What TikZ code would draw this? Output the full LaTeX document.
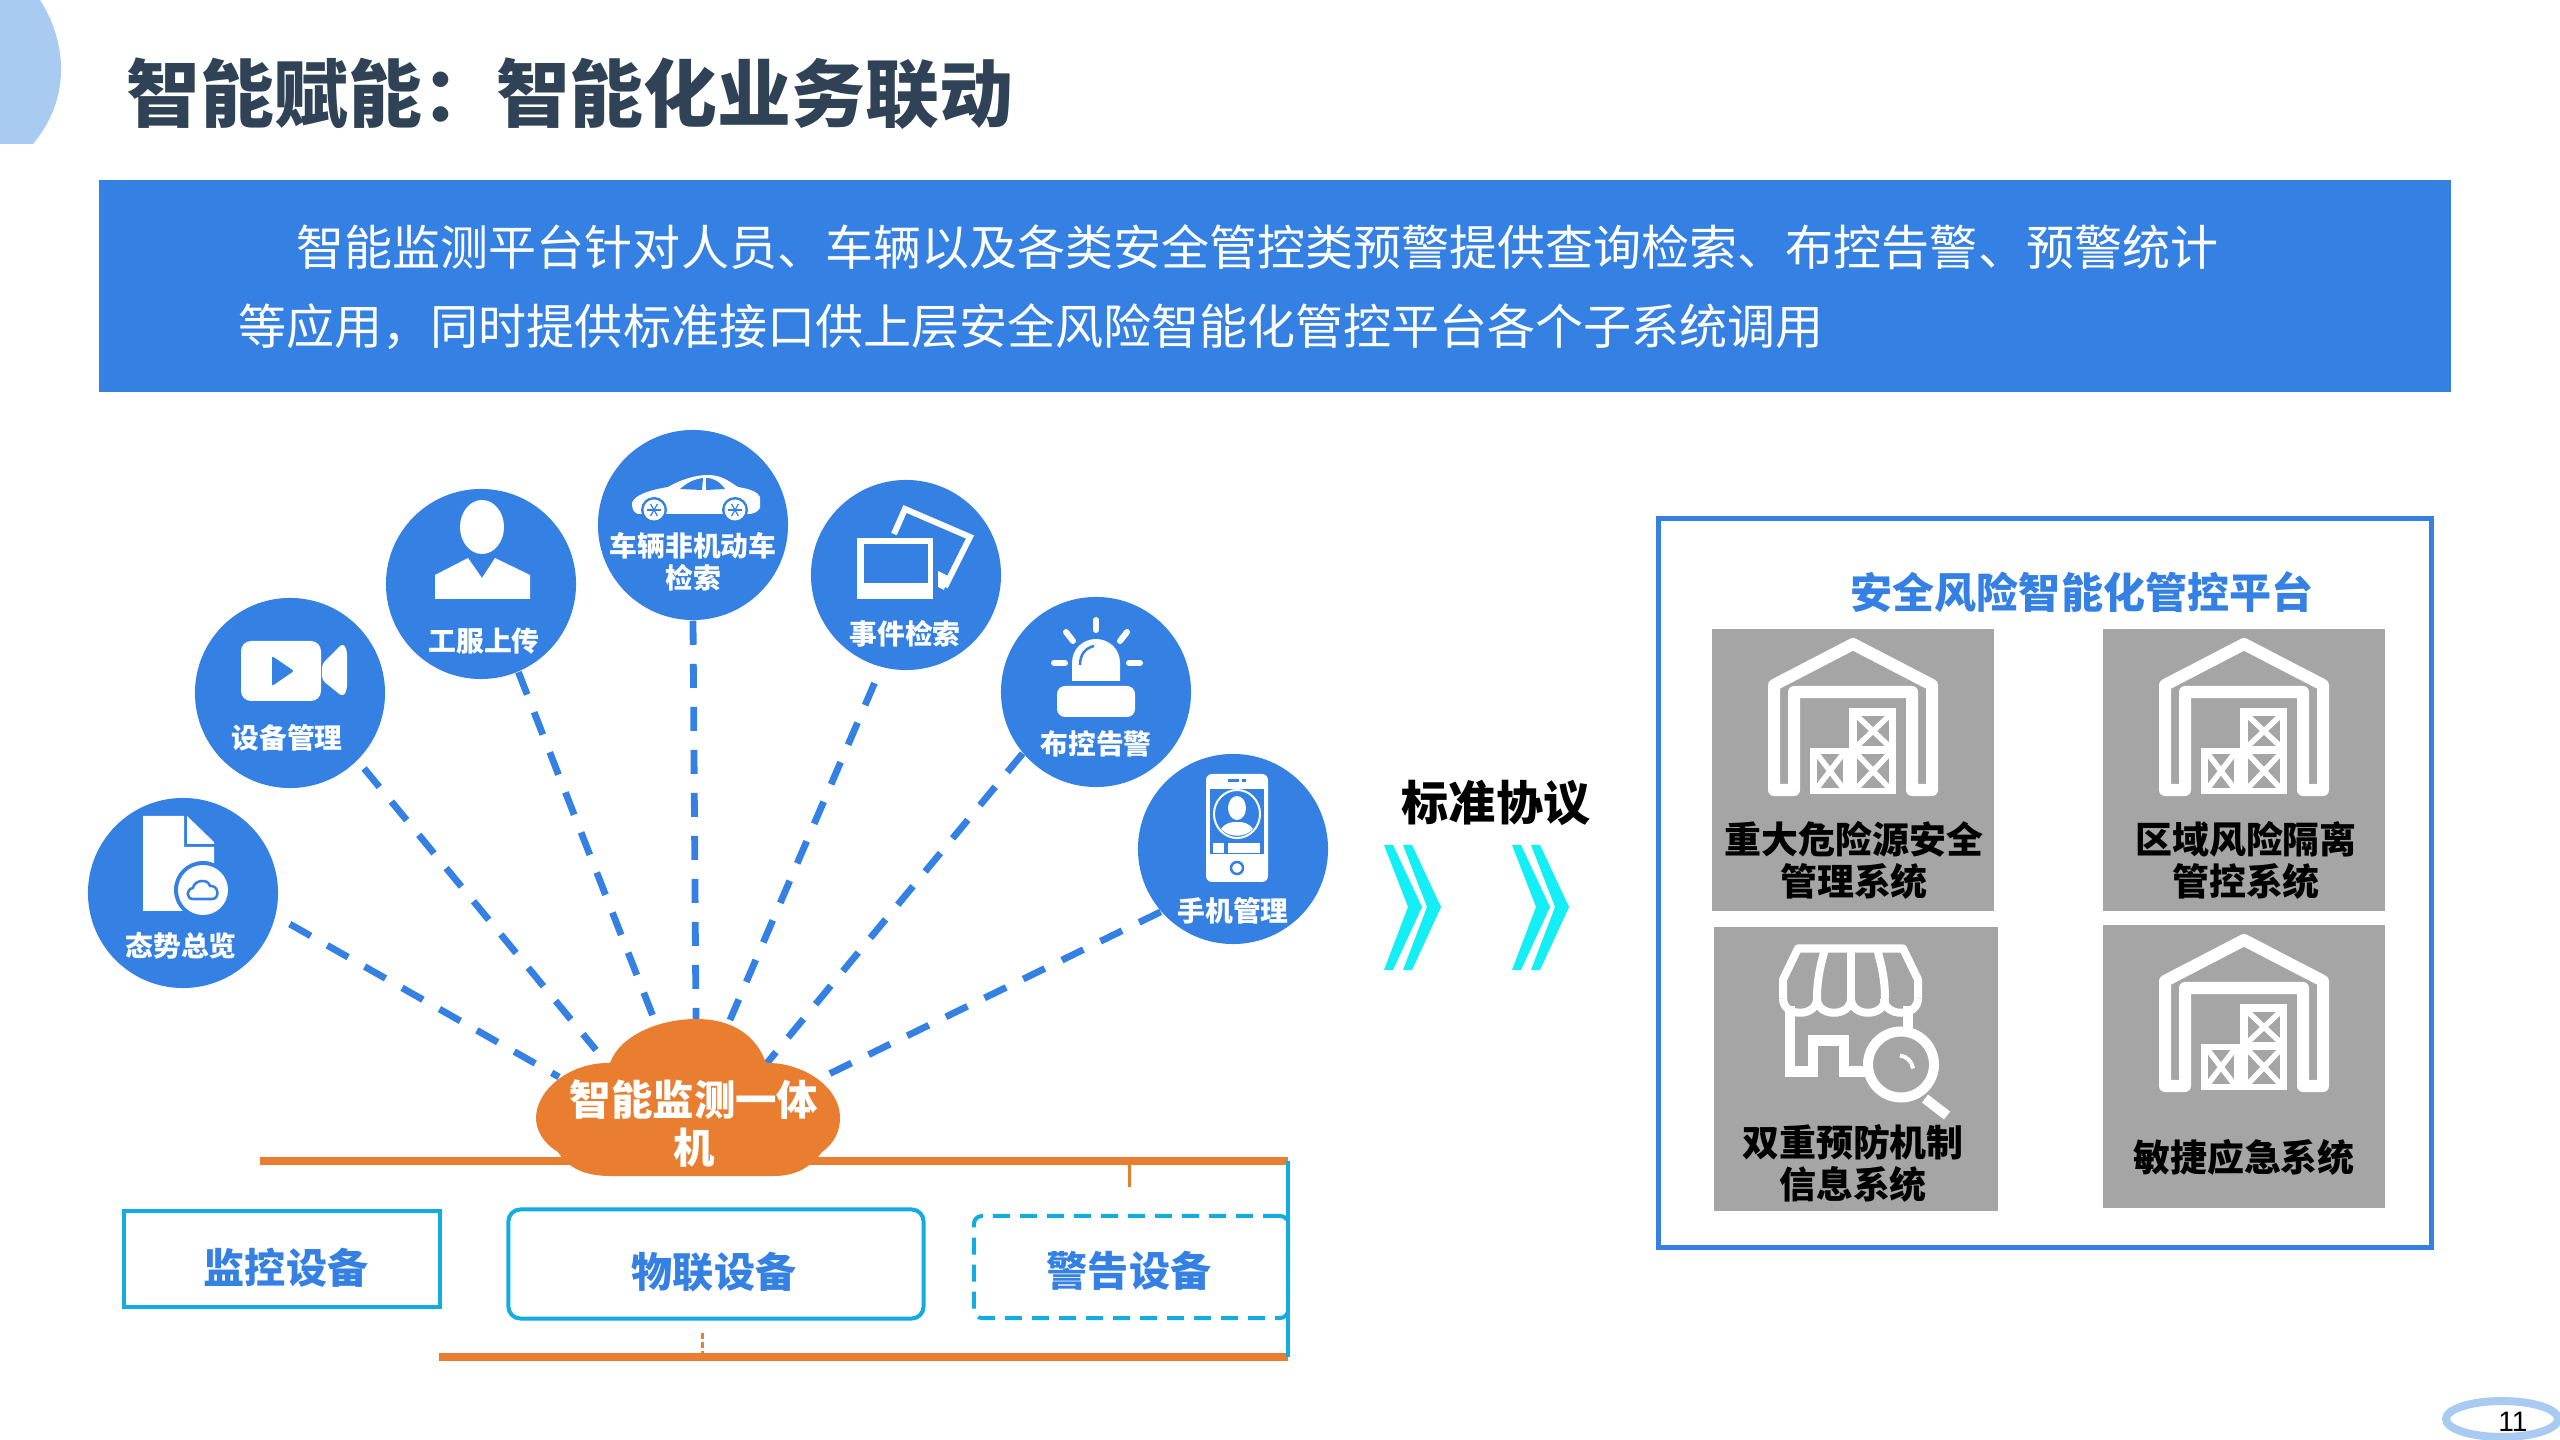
\documentclass[tikz,border=0pt]{standalone}
\usepackage{fontspec}
\setmainfont{Noto Sans CJK SC}
\newfontfamily\latinfont{Liberation Sans}
\definecolor{mainblue}{HTML}{3480E3}
\definecolor{paleblue}{HTML}{A9CBF2}
\definecolor{boxcyan}{HTML}{13ACE0}
\definecolor{busorange}{HTML}{E97E31}
\definecolor{arrowcyan}{HTML}{14EFF6}
\definecolor{cardgrey}{HTML}{A5A5A5}
\definecolor{titleink}{HTML}{2F4256}
\tikzset{
  iconball/.style={circle,fill=mainblue,minimum size=1.9cm,inner sep=0pt},
  balltext/.style={text=white,inner sep=0pt,align=center,font=\fontsize{7.9pt}{9pt}\selectfont\bfseries},
  dashlink/.style={draw=mainblue,line width=0.068cm,dash pattern=on 0.24cm off 0.19cm},
  devbox/.style={draw=boxcyan,line width=0.04cm,inner sep=0pt},
  devtext/.style={text=mainblue,inner sep=0pt,font=\fontsize{11.7pt}{13pt}\selectfont\bfseries},
  busline/.style={draw=busorange,line width=0.08cm},
  card/.style={fill=cardgrey,inner sep=0pt,anchor=north west},
  cardtext/.style={text=black,inner sep=0pt,align=center,font=\fontsize{10.5pt}{11.95pt}\selectfont\bfseries},
  warehouse/.pic={
    \draw[white,line width=0.12cm,line join=round] (-59,152) -- (-79,152) -- (-79,47) -- (0,6) -- (79,47) -- (79,152) -- (59,152) -- (59,54) -- (-59,54) -- cycle;
    \fill[white] (-4,70) rectangle (43,156);
    \fill[white] (-43,110) rectangle (-4,156);
    \foreach \xa/\ya/\xb/\yb in {4/78/36/108,4/116/36/150,-36/116/-10/150}{
      \fill[cardgrey] (\xa,\ya) rectangle (\xb,\yb);
      \draw[white,line width=0.055cm] (\xa,\ya) -- (\xb,\yb) (\xa,\yb) -- (\xb,\ya);
    }
  },
  chevron/.pic={
    \fill[arrowcyan] (0,0) -- (9,0) -- (38,62) -- (9,125) -- (0,125) -- (24,62) -- cycle;
    \fill[arrowcyan] (19,0) -- (28,0) -- (57,62) -- (28,125) -- (19,125) -- (43,62) -- cycle;
  }
}
\begin{document}
\begin{tikzpicture}[x=0.01cm,y=-0.01cm]
\useasboundingbox (0,0) rectangle (2560,1440);

\fill[paleblue] (0,0) -- (40,0) .. controls (60,30) and (78,90) .. (33,144) -- (0,144) -- cycle;
\node[text=titleink,inner sep=0pt,font=\fontsize{21pt}{24pt}\selectfont\bfseries] (title) at (570,94) {智能赋能^^^^ff1a智能化业务联动};

\fill[mainblue] (99,180) rectangle (2451,392);
\node[text=white,inner sep=0pt,anchor=west,font=\fontsize{13.66pt}{16pt}\selectfont] (introA) at (296,247) {智能监测平台针对人员、车辆以及各类安全管控类预警提供查询检索、布控告警、预警统计};
\node[text=white,inner sep=0pt,anchor=west,font=\fontsize{13.66pt}{16pt}\selectfont] (introB) at (238,327) {等应用^^^^ff0c同时提供标准接口供上层安全风险智能化管控平台各个子系统调用};

\node[iconball] (taishi) at (183,893) {};
\node[iconball] (shebei) at (290,693) {};
\node[iconball] (gongfu) at (481,584) {};
\node[iconball] (cheliang) at (693,525) {};
\node[iconball] (shijian) at (906,575) {};
\node[iconball] (bukong) at (1096,692) {};
\node[iconball] (shouji) at (1233,849) {};

\node[balltext] (taishiT) at (181,946) {态势总览};
\node[balltext] (shebeiT) at (287,738) {设备管理};
\node[balltext] (gongfuT) at (484,641) {工服上传};
\node[balltext] (cheliangT) at (693,562) {车辆非机动车\\检索};
\node[balltext] (shijianT) at (905,634) {事件检索};
\node[balltext] (bukongT) at (1096,744) {布控告警};
\node[balltext] (shoujiT) at (1233,911) {手机管理};

% icons
\fill[white] (143,816) -- (184,816) -- (184,847) -- (214,847) -- (214,900) -- (200,911) -- (143,911) -- cycle;
\fill[white] (187,816) -- (214,842) -- (214,844) -- (187,844) -- cycle;
\fill[mainblue] (203,890) circle (29);
\fill[white] (203,890) circle (25);
\draw[mainblue,line width=0.025cm] (193,899) .. controls (186,899) and (186,889) .. (193,888) .. controls (194,880) and (208,878) .. (210,886) .. controls (219,885) and (220,899) .. (212,899) -- cycle;

\fill[white,rounded corners=0.1cm] (241,641) rectangle (321,701);
\fill[white,rounded corners=0.04cm] (322,664) -- (343,643) -- (347,650) -- (347,690) -- (343,697) -- (322,680) -- cycle;
\fill[mainblue,rounded corners=0.02cm] (272,656) -- (294,671) -- (272,686) -- cycle;

\fill[white] (482,527) ellipse (22 and 27);
\fill[white] (435,575) -- (468,558) -- (482,578) -- (495,558) -- (530,575) -- (530,599) -- (435,599) -- cycle;

\fill[white] (640,514) .. controls (633,514) and (632,508) .. (632,503) .. controls (634,495) and (650,490) .. (668,487) .. controls (680,480) and (695,475) .. (708,475) .. controls (722,475) and (730,482) .. (738,487) .. controls (750,489) and (758,492) .. (760,497) -- (760,508) .. controls (757,513) and (752,514) .. (748,514) -- cycle;
\fill[mainblue] (680,489) .. controls (688,482) and (695,479) .. (703,478) -- (702,490) -- cycle;
\fill[mainblue] (706,478) .. controls (714,478) and (720,482) .. (725,489) -- (706,490) -- cycle;
\foreach \wx in {654,735}{
  \fill[mainblue] (\wx,510) circle (13);
  \fill[white] (\wx,510) circle (10.5);
  \foreach \wa in {0,60,120}{
    \draw[mainblue,line width=0.012cm] (\wx,510) ++(\wa:7) -- ++(\wa+180:14);
  }
}

\fill[white] (857,538) rectangle (933,599);
\fill[mainblue] (864,544) rectangle (928,583);
\draw[white,line width=0.06cm] (894,534) -- (905,509) -- (970,537) -- (945,587);
\fill[white] (938,571) -- (948,576) -- (944,590) -- (938,587) -- cycle;

\draw[white,line width=0.06cm,line cap=round] (1096,620) -- (1096,630);
\draw[white,line width=0.06cm,line cap=round] (1066,632) -- (1073,641);
\draw[white,line width=0.06cm,line cap=round] (1127,632) -- (1120,641);
\draw[white,line width=0.06cm,line cap=round] (1054,663) -- (1065,663);
\draw[white,line width=0.06cm,line cap=round] (1129,663) -- (1140,663);
\fill[white] (1072,681) -- (1072,663) .. controls (1072,648) and (1084,639) .. (1096,639) .. controls (1108,639) and (1120,648) .. (1120,663) -- (1120,681) -- cycle;
\draw[mainblue,line width=0.025cm] (1080,665) .. controls (1080,655) and (1085,648) .. (1094,646);
\fill[white,rounded corners=0.08cm] (1057,717) -- (1057,686) -- (1135,686) -- (1135,717) -- cycle;

\fill[white,rounded corners=0.06cm] (1206,774) rectangle (1268,882);
\fill[mainblue] (1210,789) rectangle (1264,854);
\draw[white,line width=0.02cm] (1237,814) ellipse (23 and 24);
\fill[white] (1237,808) ellipse (9 and 12);
\fill[white] (1221,829) .. controls (1226,822) and (1232,822) .. (1237,822) .. controls (1242,822) and (1248,822) .. (1253,829) .. controls (1245,838) and (1229,838) .. (1221,829) -- cycle;
\fill[white] (1213,843) rectangle (1224,853);
\fill[white] (1228,843) rectangle (1260,853);
\draw[mainblue,line width=0.03cm] (1228,781) -- (1239,781);
\draw[mainblue,line width=0.03cm] (1242,781) -- (1246,781);
\draw[mainblue,line width=0.025cm] (1237,868) circle (6);

% connectors
\coordinate (clA) at (559,1077);
\coordinate (clB) at (596,1050);
\coordinate (clC) at (656,1024);
\coordinate (clD) at (696,1022);
\coordinate (clE) at (730,1020);
\coordinate (clF) at (767,1063);
\coordinate (clG) at (829,1074);
\draw[dashlink,shorten <=0.16cm] (taishi.-14) -- (clA);
\draw[dashlink,shorten <=0.1cm] (shebei.-45) -- (clB);
\draw[dashlink] (gongfu.-67) -- (clC);
\draw[dashlink] (cheliang.south) -- (clD);
\draw[dashlink,shorten <=0.17cm] (shijian.-105) -- (clE);
\draw[dashlink] (bukong.-140) -- (clF);
\draw[dashlink] (shouji.-139) -- (clG);

\coordinate (busAL) at (260,1161);
\coordinate (busAR) at (1288,1161);
\coordinate (busBL) at (439,1357);
\coordinate (busBR) at (1288,1357);
\coordinate (stubA) at (1129,1187);
\coordinate (stubB) at (702,1330);
\coordinate (stubAT) at (1129,1161);
\coordinate (stubBT) at (702,1357);
\draw[busline] (busAL) -- (busAR);
\draw[busline] (busBL) -- (busBR);
\draw[busorange,line width=0.03cm] (stubAT) -- (stubA);
\draw[busorange,line width=0.03cm,dash pattern=on 0.06cm off 0.03cm] (stubBT) -- (stubB);

\fill[busorange] (610,1176) .. controls (585,1176) and (568,1168) .. (558,1152) .. controls (543,1143) and (536,1130) .. (536,1118) .. controls (536,1090) and (570,1062) .. (610,1063) .. controls (620,1035) and (660,1019) .. (696,1019) .. controls (732,1019) and (756,1035) .. (766,1063) .. controls (800,1062) and (840,1085) .. (840,1118) .. controls (840,1130) and (835,1143) .. (822,1152) .. controls (810,1168) and (795,1176) .. (774,1176) -- cycle;
\node[text=white,inner sep=0pt,align=center,font=\fontsize{11.8pt}{13.66pt}\selectfont\bfseries] (cloud) at (694,1124) {智能监测一体\\机};

\node[devbox,minimum width=3.16cm,minimum height=0.96cm] (jiankong) at (282,1259) {};
\node[devbox,rounded corners=0.12cm,minimum width=4.15cm,minimum height=1.09cm] (wulian) at (716,1264) {};
\node[devbox,dash pattern=on 0.17cm off 0.1cm,rounded corners=0.08cm,minimum width=3.14cm,minimum height=1.02cm] (jinggao) at (1131,1267) {};
\draw[boxcyan,line width=0.04cm] (busAR) -- (busBR);
\node[devtext] (jiankongT) at (286,1268) {监控设备};
\node[devtext] (wulianT) at (714,1272) {物联设备};
\node[devtext] (jinggaoT) at (1129,1271) {警告设备};

\node[text=black,inner sep=0pt,font=\fontsize{13.4pt}{15pt}\selectfont\bfseries] (biaozhun) at (1496,803) {标准协议};
\pic at (1384,845) {chevron};
\pic at (1512,845) {chevron};

% platform
\draw[mainblue,line width=0.05cm] (1658,519) rectangle (2431,1247);
\node[text=mainblue,inner sep=0pt,font=\fontsize{11.95pt}{14pt}\selectfont\bfseries] (platform) at (2082,592) {安全风险智能化管控平台};

\node[card,minimum width=2.82cm,minimum height=2.82cm] (cardA) at (1711,628) {};
\node[card,minimum width=2.82cm,minimum height=2.82cm] (cardB) at (2102,628) {};
\node[card,minimum width=2.84cm,minimum height=2.84cm] (cardC) at (1713,926) {};
\node[card,minimum width=2.82cm,minimum height=2.83cm] (cardD) at (2102,924) {};

\pic at (1853,638) {warehouse};
\pic at (2244,638) {warehouse};
\pic at (2244,934) {warehouse};

\begin{scope}[shift={(1853,943.5)}]
  \draw[white,line width=0.08cm,line join=round] (-70,55) -- (-70,36) -- (-55,5) -- (50,5) -- (65,36) -- (65,55);
  \draw[white,line width=0.08cm] (-36,55) .. controls (-36,35) and (-32,20) .. (-28,5);
  \draw[white,line width=0.08cm] (-2,55) -- (-2,5);
  \draw[white,line width=0.08cm] (32,55) .. controls (32,35) and (28,20) .. (24,5);
  \foreach \sx in {-70,-36,-2,31}{
    \draw[white,line width=0.08cm] (\sx,55) .. controls (\sx,74) and (\sx+34,74) .. (\sx+34,55);
  }
  \draw[white,line width=0.1cm] (-63,62) -- (-63,128) -- (-40,128) -- (-40,97) -- (-9,97) -- (-9,128) -- (16,128);
  \draw[white,line width=0.1cm] (55,62) -- (55,92);
  \draw[white,line width=0.1cm,fill=cardgrey] (48,121) circle (33);
  \draw[white,line width=0.1cm] (72,155) -- (94,172);
  \draw[white,line width=0.04cm] (47,112) .. controls (54,113) and (59,118) .. (60,125);
\end{scope}

\node[cardtext] (cardAT) at (1854,860) {重大危险源安全\\管理系统};
\node[cardtext] (cardBT) at (2246,860) {区域风险隔离\\管控系统};
\node[cardtext] (cardCT) at (1853,1163) {双重预防机制\\信息系统};
\node[cardtext] (cardDT) at (2244,1157) {敏捷应急系统};

\draw[paleblue,line width=0.08cm] (2502,1419) ellipse (56 and 18);
\node[text=black,inner sep=0pt,font=\latinfont\fontsize{8pt}{9pt}\selectfont] (pagenum) at (2513,1422) {11};
\end{tikzpicture}
\end{document}
